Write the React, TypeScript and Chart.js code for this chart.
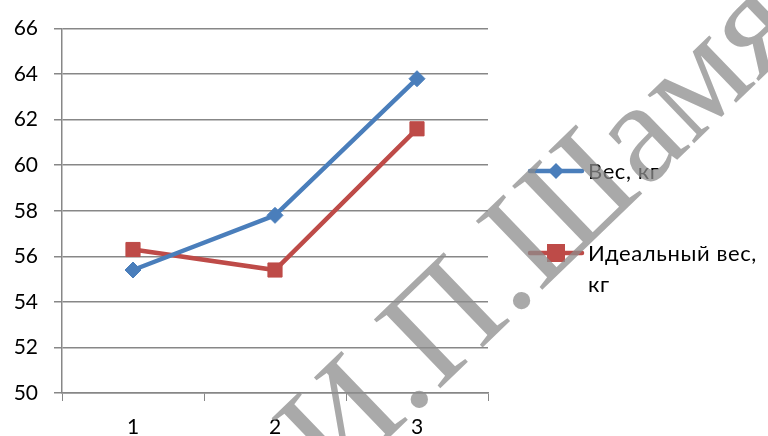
import React, { useEffect, useRef } from "react";
import { Chart, registerables } from "chart.js";

Chart.register(...registerables);

const categories = ["1", "2", "3"];
const weight = [55.4, 57.8, 63.8];
const idealWeight = [56.3, 55.4, 61.6];
const seriesNames = [["Вес, кг"], ["Идеальный вес,", "кг"]];
const watermarkText = "И.П.Шамя";

const FONT = "Lato, 'Open Sans', sans-serif";

const legendPlugin = {
  id: "customLegend",
  afterDraw(chart: any) {
    const ctx = chart.ctx;
    const rows = [171, 253];
    chart.data.datasets.forEach((ds: any, i: number) => {
      const y = rows[i];
      ctx.save();
      ctx.strokeStyle = ds.borderColor;
      ctx.lineWidth = 4.5;
      ctx.lineCap = "round";
      ctx.beginPath();
      ctx.moveTo(530, y);
      ctx.lineTo(582, y);
      ctx.stroke();
      ctx.fillStyle = ds.pointBackgroundColor;
      if (i === 0) {
        const r = 8;
        ctx.beginPath();
        ctx.moveTo(556 - r, y);
        ctx.lineTo(556, y - r);
        ctx.lineTo(556 + r, y);
        ctx.lineTo(556, y + r);
        ctx.closePath();
        ctx.fill();
      } else {
        ctx.fillRect(556 - 9, y - 9, 18, 18);
      }
      ctx.fillStyle = "#000";
      ctx.font = "22px " + FONT;
      (ctx as any).letterSpacing = "0.6px";
      ctx.textBaseline = "middle";
      ctx.textAlign = "left";
      seriesNames[i].forEach((t, k) => {
        ctx.fillText(t, 588, y + 1 + k * 31);
      });
      ctx.restore();
    });

    // watermark
    ctx.save();
    ctx.font = "146px 'Liberation Serif', 'DejaVu Serif', serif";
    const wI = ctx.measureText("И").width;
    const wDot = ctx.measureText(".").width;
    const ang = -44 * Math.PI / 180;
    const dx = Math.cos(ang), dy = Math.sin(ang);
    const d = wI + wDot / 2;
    const ox = 424 - dx * d;
    const oy = 404 - dy * d;
    ctx.translate(ox, oy);
    ctx.rotate(ang);
    ctx.textBaseline = "alphabetic";
    ctx.fillStyle = "rgba(140,140,140,0.75)";
    ctx.fillText(watermarkText, 0, 0);
    ctx.restore();
  },
};

export default function App() {
  const ref = useRef<HTMLCanvasElement>(null);
  useEffect(() => {
    if (!ref.current) return;
    const chart = new Chart(ref.current, {
      type: "line",
      data: {
        labels: categories,
        datasets: [
          {
            label: seriesNames[0].join(" "),
            data: weight,
            borderColor: "#4A7EBB",
            backgroundColor: "#4A7EBB",
            pointBackgroundColor: "#4A7EBB",
            pointBorderColor: "#4A7EBB",
            borderWidth: 4.5,
            pointStyle: "rectRot",
            pointRadius: 8,
            pointBorderWidth: 1,
            tension: 0,
          },
          {
            label: seriesNames[1].join(" "),
            data: idealWeight,
            borderColor: "#BE4B48",
            backgroundColor: "#BE4B48",
            pointBackgroundColor: "#BE4B48",
            pointBorderColor: "#BE4B48",
            borderWidth: 4.5,
            pointStyle: "rect",
            pointRadius: 10,
            pointBorderWidth: 1,
            tension: 0,
          },
        ],
      },
      options: {
        responsive: false,
        animation: false,
        layout: { padding: { top: 24, right: 280, bottom: 0, left: 0 } },
        plugins: { legend: { display: false }, tooltip: { enabled: false } },
        scales: {
          x: {
            type: "category",
            offset: true,
            afterFit: (s: any) => { s.height = 43; },
            grid: {
              offset: true,
              drawOnChartArea: false,
              drawTicks: true,
              tickLength: 8,
              color: "#878787",
            },
            border: { display: true, color: "#878787", width: 1.5 },
            ticks: { color: "#000", font: { family: FONT, size: 21 }, padding: 14 },
          },
          y: {
            min: 50,
            max: 66,
            afterFit: (s: any) => { s.width = 62; },
            grid: { color: "#878787", lineWidth: 1.5, tickLength: 8 },
            border: { display: true, color: "#878787", width: 1.5 },
            ticks: { stepSize: 2, color: "#000", font: { family: FONT, size: 21 }, padding: 16 },
          },
        },
      },
      plugins: [legendPlugin],
    });
    return () => chart.destroy();
  }, []);
  return (
    <div style={{ position: "absolute", left: 0, top: 0, width: 768, height: 436, background: "#fff" }}>
      <canvas ref={ref} width={768} height={436} />
    </div>
  );
}
